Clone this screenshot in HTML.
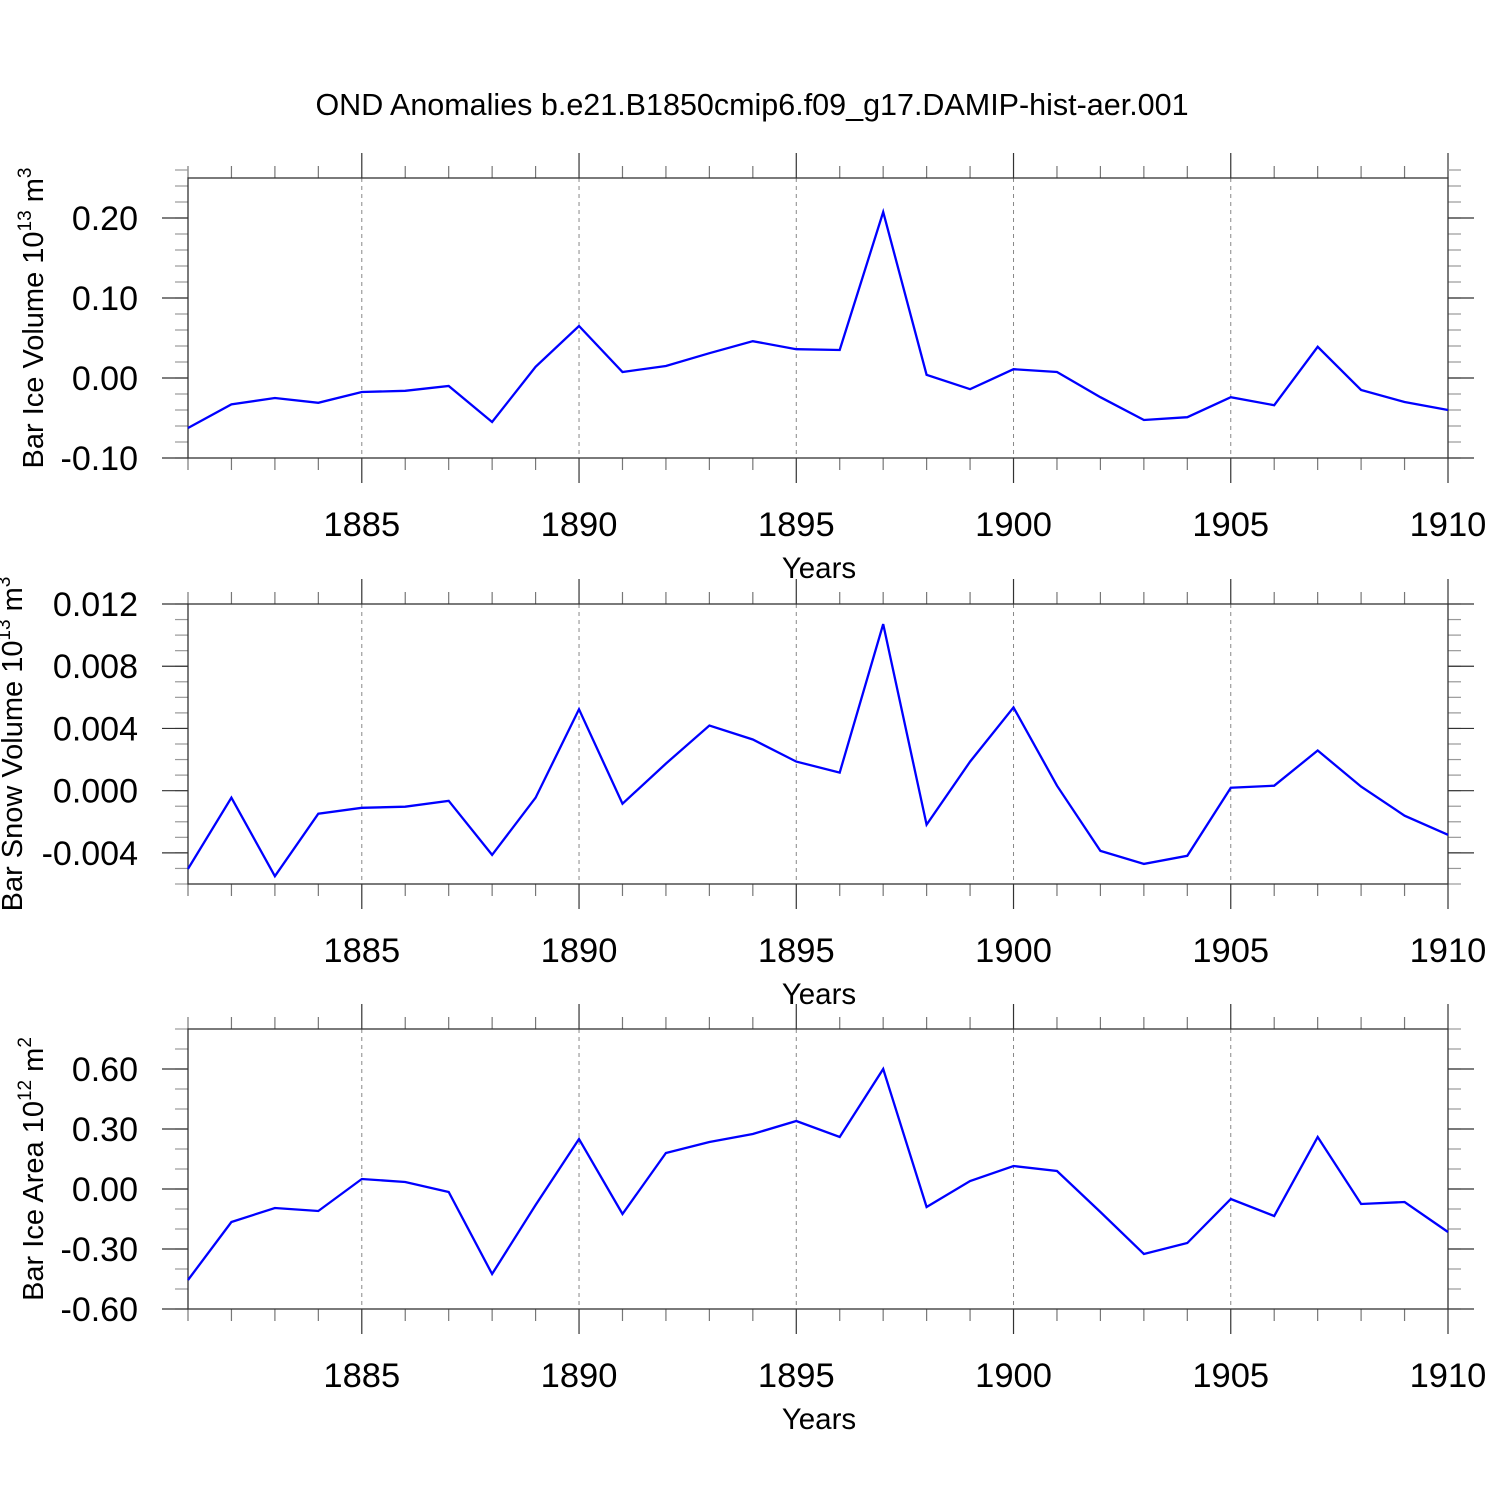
<!DOCTYPE html>
<html><head><meta charset="utf-8"><style>
body{margin:0;background:#fff}
svg{display:block;font-family:"Liberation Sans",sans-serif}
</style></head><body>
<svg id="chart" width="1500" height="1500" viewBox="0 0 1500 1500">
<text x="752" y="115" font-size="30.5" text-anchor="middle">OND Anomalies b.e21.B1850cmip6.f09_g17.DAMIP-hist-aer.001</text>
</svg>
<script>
const years = [1881,1882,1883,1884,1885,1886,1887,1888,1889,1890,1891,1892,1893,1894,1895,1896,1897,1898,1899,1900,1901,1902,1903,1904,1905,1906,1907,1908,1909,1910];
const iceVolume = [-0.0625,-0.033,-0.025,-0.031,-0.0175,-0.016,-0.01,-0.055,0.014,0.065,0.0075,0.015,0.031,0.046,0.036,0.035,0.2075,0.004,-0.014,0.011,0.0075,-0.024,-0.0525,-0.049,-0.024,-0.034,0.039,-0.015,-0.03,-0.04];
const snowVolume = [-0.00503,-0.00045,-0.0055,-0.00148,-0.0011,-0.00103,-0.00065,-0.00413,-0.00045,0.00523,-0.00084,0.00174,0.00419,0.00329,0.00187,0.00116,0.01071,-0.00219,0.00187,0.00535,0.00032,-0.00387,-0.00471,-0.00419,0.00019,0.00032,0.00258,0.00026,-0.00161,-0.00284];
const iceArea = [-0.455,-0.165,-0.095,-0.11,0.05,0.035,-0.015,-0.425,-0.08,0.25,-0.125,0.18,0.235,0.275,0.34,0.26,0.60,-0.09,0.04,0.115,0.09,-0.115,-0.325,-0.27,-0.05,-0.135,0.26,-0.075,-0.065,-0.215];
const xTickYears = [1885,1890,1895,1900,1905,1910];
const ticks1 = ["-0.10","0.00","0.10","0.20"];
const ticks2 = ["-0.004","0.000","0.004","0.008","0.012"];
const ticks3 = ["-0.60","-0.30","0.00","0.30","0.60"];

const NS="http://www.w3.org/2000/svg";
const svg=document.getElementById('chart');
function mk(tag,attrs,parent){const e=document.createElementNS(NS,tag);for(const k in attrs)e.setAttribute(k,attrs[k]);(parent||svg).appendChild(e);return e;}
const L=188,R=1448,X0=1881,X1=1910;
function xs(yr){return L+(yr-X0)/(X1-X0)*(R-L);}

function panel(name,top,ymin,ymax,ticks,minorStep,data,titleParts,titleX){
  const bot=top+280;
  const g=mk('g',{});
  
  
  const ys=v=>bot-(v-ymin)/(ymax-ymin)*(bot-top);
  xTickYears.forEach(yr=>{
    if(yr===X1)return;
    const l=mk('line',{x1:xs(yr),x2:xs(yr),y1:top,y2:bot,stroke:'#888','stroke-width':1,'stroke-dasharray':'4,4'},g);
    
    
  });
  for(let yr=X0;yr<=X1;yr++){
    const major=xTickYears.includes(yr);
    const len=major?25:12;const col=major?'#333':'#777';
    mk('line',{x1:xs(yr),x2:xs(yr),y1:top-len,y2:top,stroke:col,'stroke-width':1.2},g);
    mk('line',{x1:xs(yr),x2:xs(yr),y1:bot,y2:bot+len,stroke:col,'stroke-width':1.2},g);
  }
  const n=Math.round((ymax-ymin)/minorStep);
  for(let i=0;i<=n;i++){
    const v=ymin+i*minorStep;const y=ys(v);
    mk('line',{x1:L-13,x2:L,y1:y,y2:y,stroke:'#999','stroke-width':1.2},g);
    mk('line',{x1:R,x2:R+13,y1:y,y2:y,stroke:'#999','stroke-width':1.2},g);
  }
  ticks.forEach(t=>{
    const y=ys(parseFloat(t));
    mk('line',{x1:L-26,x2:L,y1:y,y2:y,stroke:'#333','stroke-width':1.2},g);
    mk('line',{x1:R,x2:R+26,y1:y,y2:y,stroke:'#333','stroke-width':1.2},g);
    const tx=mk('text',{x:L-50,y:y+12,'font-size':34,'text-anchor':'end'},g);
    tx.textContent=t;
    
    
  });
  const box=mk('rect',{x:L,y:top,width:R-L,height:bot-top,fill:'none',stroke:'#333','stroke-width':1.3},g);
  
  
  xTickYears.forEach(yr=>{
    const tx=mk('text',{x:xs(yr),y:bot+78,'font-size':34.5,'text-anchor':'middle'},g);
    tx.textContent=yr;
    
    
  });
  const xt=mk('text',{x:819,y:bot+120,'font-size':29.5,'text-anchor':'middle'},g);
  xt.textContent='Years';
  
  
  const cy=(top+bot)/2;
  const yt=mk('text',{x:0,y:0,'font-size':29,'text-anchor':'middle',transform:`translate(${titleX},${cy}) rotate(-90)`},g);
  
  
  const a=document.createElementNS(NS,'tspan');a.textContent=titleParts[0];yt.appendChild(a);
  const b=document.createElementNS(NS,'tspan');b.setAttribute('dy','-12');b.setAttribute('font-size','19');b.textContent=titleParts[1];yt.appendChild(b);
  const c=document.createElementNS(NS,'tspan');c.setAttribute('dy','12');c.textContent=' '+titleParts[2];yt.appendChild(c);
  const d=document.createElementNS(NS,'tspan');d.setAttribute('dy','-12');d.setAttribute('font-size','19');d.textContent=titleParts[3];yt.appendChild(d);
  const pts=data.map((v,i)=>xs(years[i]).toFixed(1)+','+ys(v).toFixed(1)).join(' ');
  const pl=mk('polyline',{points:pts,fill:'none',stroke:'#0000ff','stroke-width':2.3,'stroke-linejoin':'miter'},g);
  
  
}
panel('ice-volume',178,-0.10,0.25,ticks1,0.02,iceVolume,['Bar Ice Volume 10','13','m','3'],43);
panel('snow-volume',604,-0.006,0.012,ticks2,0.001,snowVolume,['Bar Snow Volume 10','13','m','3'],22);
panel('ice-area',1029,-0.60,0.80,ticks3,0.1,iceArea,['Bar Ice Area 10','12','m','2'],43);
</script>
</body></html>
